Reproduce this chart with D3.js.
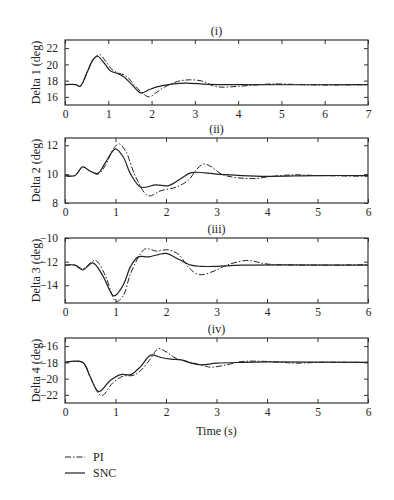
<!DOCTYPE html>
<html>
<head>
<meta charset="utf-8">
<script src="https://cdn.jsdelivr.net/npm/d3@7"></script>
<style>
  body { margin: 0; background: #fff; }
  text { font-family: "Liberation Serif", "DejaVu Serif", serif; fill: #222; }
</style>
</head>
<body>
<div id="chart"></div>
<script>
// panel titles, labels, ranges and ticks
const titles = ['(i)', '(ii)', '(iii)', '(iv)']
const yLabels = ['Delta 1 (deg)', 'Delta 2 (deg)', 'Delta 3 (deg)', 'Delta 4 (deg)']
const xMax = [7, 6, 6, 6]
const yDomains = [[15, 23], [8, 12.5], [-15.5, -10], [-23, -15]]
const yTicks = [[16, 18, 20, 22], [8, 10, 12], [-14, -12, -10], [-22, -20, -18, -16]]
const seriesNames = ['PI', 'SNC']

// [time, value]
const pi1 = [[0,17.5],[0.25,17.5],[0.35,17.3],[0.5,18.8],[0.65,20.6],[0.8,21.2],[0.95,20.3],[1.1,19.3],[1.25,18.9],[1.4,18.6],[1.6,17.5],[1.8,16.4],[1.95,16.0],[2.1,16.5],[2.3,17.2],[2.6,17.9],[2.9,18.1],[3.2,17.9],[3.4,17.4],[3.6,17.2],[4.0,17.3],[4.5,17.5],[4.8,17.6],[5.5,17.5],[6.0,17.45],[7.0,17.5]]
const snc1 = [[0,17.5],[0.25,17.5],[0.35,17.3],[0.5,18.9],[0.65,20.6],[0.75,21.0],[0.9,20.2],[1.05,19.2],[1.2,18.9],[1.35,18.5],[1.55,17.5],[1.75,16.5],[1.95,16.9],[2.1,17.2],[2.5,17.6],[2.8,17.7],[3.3,17.55],[4.0,17.5],[7.0,17.5]]
const pi2 = [[0,9.9],[0.2,9.9],[0.35,10.5],[0.5,10.2],[0.65,10.0],[0.8,10.6],[0.95,11.7],[1.07,12.1],[1.2,11.6],[1.4,9.8],[1.65,8.5],[1.9,8.85],[2.2,9.1],[2.45,9.6],[2.6,10.3],[2.75,10.7],[2.9,10.5],[3.1,10.0],[3.4,9.75],[3.8,9.7],[4.0,9.8],[4.5,9.95],[5.0,9.9],[6.0,9.85]]
const snc2 = [[0,9.9],[0.2,9.9],[0.35,10.5],[0.5,10.2],[0.65,10.05],[0.8,10.8],[1.0,11.75],[1.15,11.2],[1.3,10.0],[1.5,9.1],[1.8,9.25],[2.05,9.2],[2.3,9.7],[2.5,10.1],[3.0,10.0],[3.5,9.9],[4.0,9.85],[5.0,9.9],[6.0,9.9]]
const pi3 = [[0,-12.3],[0.2,-12.3],[0.35,-12.6],[0.6,-11.9],[0.8,-13.2],[0.95,-15.0],[1.02,-15.4],[1.15,-14.9],[1.3,-13.0],[1.5,-11.3],[1.6,-10.9],[1.8,-11.1],[2.05,-11.0],[2.25,-11.4],[2.45,-12.5],[2.65,-13.1],[2.95,-12.8],[3.2,-12.3],[3.6,-11.9],[4.0,-12.2],[4.7,-12.3],[6.0,-12.25]]
const snc3 = [[0,-12.3],[0.2,-12.3],[0.35,-12.7],[0.55,-12.1],[0.75,-13.2],[0.97,-14.9],[1.15,-14.0],[1.3,-12.4],[1.45,-11.6],[1.65,-11.6],[1.85,-11.4],[2.0,-11.3],[2.25,-11.8],[2.5,-12.3],[2.7,-12.4],[3.0,-12.4],[3.5,-12.3],[6.0,-12.3]]
const pi4 = [[0,-18],[0.35,-18],[0.5,-19.8],[0.72,-22.1],[0.95,-20.5],[1.15,-19.7],[1.35,-19.6],[1.5,-19.0],[1.7,-17.5],[1.85,-16.3],[2.0,-16.7],[2.2,-17.5],[2.5,-18.0],[2.8,-18.5],[2.9,-18.6],[3.2,-18.3],[3.5,-17.9],[3.8,-17.85],[4.3,-18.0],[4.6,-18.1],[5.0,-18.0],[6.0,-18.0]]
const snc4 = [[0,-18],[0.35,-18],[0.5,-19.8],[0.67,-21.6],[0.9,-20.2],[1.1,-19.5],[1.3,-19.5],[1.5,-18.5],[1.7,-17.1],[1.9,-17.4],[2.1,-17.6],[2.3,-17.7],[2.5,-18.1],[2.7,-18.3],[3.0,-18.1],[3.5,-18.0],[4.0,-17.95],[6.0,-18.0]]
const piSeries = [pi1, pi2, pi3, pi4]
const sncSeries = [snc1, snc2, snc3, snc4]

const WIDTH = 394
const HEIGHT = 500
const LEFT = 65
const RIGHT = 368
const TOPS = [40, 138, 238, 338]
const PANEL_H = 65
const TICK = 4
const DASH_DOT = '6,2,1.5,2'

const svg = d3.select('#chart')
    .append('svg')
    .attr('width', WIDTH)
    .attr('height', HEIGHT)

titles.forEach((title, i) => {
    const top = TOPS[i]
    const x = d3.scaleLinear().domain([0, xMax[i]]).range([LEFT, RIGHT])
    const y = d3.scaleLinear().domain(yDomains[i]).range([top + PANEL_H, top])
    const g = svg.append('g')

    // title
    g.append('text')
        .attr('x', (LEFT + RIGHT) / 2)
        .attr('y', top - 5)
        .attr('text-anchor', 'middle')
        .attr('font-size', '12px')
        .text(title)

    // axes with inward ticks on every side
    const xTicks = d3.range(0, xMax[i] + 1)
    g.append('g')
        .attr('transform', `translate(0,${top + PANEL_H})`)
        .call(d3.axisBottom(x).tickValues(xTicks).tickFormat(d3.format('d')).tickSizeInner(-TICK).tickSizeOuter(0).tickPadding(5))
    g.append('g')
        .attr('transform', `translate(0,${top})`)
        .call(d3.axisTop(x).tickValues(xTicks).tickFormat('').tickSizeInner(-TICK).tickSizeOuter(0))
    g.append('g')
        .attr('transform', `translate(${LEFT},0)`)
        .call(d3.axisLeft(y).tickValues(yTicks[i]).tickFormat(d3.format('d')).tickSizeInner(-TICK).tickSizeOuter(0).tickPadding(7))
    g.append('g')
        .attr('transform', `translate(${RIGHT},0)`)
        .call(d3.axisRight(y).tickValues(yTicks[i]).tickFormat('').tickSizeInner(-TICK).tickSizeOuter(0))

    g.selectAll('.domain').remove()
    g.selectAll('.tick line').attr('stroke', '#333').attr('stroke-width', 1)
    g.selectAll('.tick text').attr('font-size', '11.5px').attr('font-family', '"Liberation Serif", serif').attr('fill', '#222')

    g.append('rect')
        .attr('x', LEFT)
        .attr('y', top)
        .attr('width', RIGHT - LEFT)
        .attr('height', PANEL_H)
        .attr('fill', 'none')
        .attr('stroke', '#333')
        .attr('stroke-width', 1.2)

    // y label
    g.append('text')
        .attr('transform', `translate(36,${top + PANEL_H / 2}) rotate(-90)`)
        .attr('text-anchor', 'middle')
        .attr('dy', '0.35em')
        .attr('font-size', '12px')
        .text(yLabels[i])

    const line = d3.line()
        .x(d => x(d[0]))
        .y(d => y(d[1]))
        .curve(d3.curveCatmullRom.alpha(0.5))

    g.append('path')
        .datum(piSeries[i])
        .attr('d', line)
        .attr('fill', 'none')
        .attr('stroke', '#222')
        .attr('stroke-width', 1)
        .attr('stroke-dasharray', DASH_DOT)

    g.append('path')
        .datum(sncSeries[i])
        .attr('d', line)
        .attr('fill', 'none')
        .attr('stroke', '#222')
        .attr('stroke-width', 1.2)
})

// x axis title
svg.append('text')
    .attr('x', (LEFT + RIGHT) / 2)
    .attr('y', 435)
    .attr('text-anchor', 'middle')
    .attr('font-size', '12px')
    .text('Time (s)')

// legend
const legend = svg.append('g')
    .selectAll('g')
    .data(seriesNames)
    .enter()
    .append('g')
    .attr('transform', (d, i) => `translate(65,${457 + i * 16})`)

legend.append('line')
    .attr('x1', 0)
    .attr('x2', 20)
    .attr('stroke', '#222')
    .attr('stroke-width', (d, i) => i === 0 ? 1 : 1.2)
    .attr('stroke-dasharray', (d, i) => i === 0 ? DASH_DOT : null)

legend.append('text')
    .attr('x', 28)
    .attr('dy', '0.35em')
    .attr('font-size', '12px')
    .text(d => d)
</script>
</body>
</html>
